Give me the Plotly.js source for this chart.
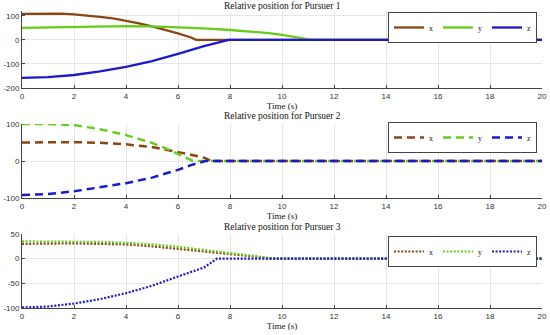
<!DOCTYPE html>
<html><head><meta charset="utf-8">
<script src="https://cdn.plot.ly/plotly-3.0.1.min.js"></script>
<style>html,body{margin:0;padding:0;background:#fff}#chart{width:550px;height:335px}</style>
</head><body><div id="chart"></div>
<script>
// ---- Pursuer 1 (solid) ----
const p1_tx = [0,0.5,1,1.5,2,2.5,3,3.5,4,4.5,5,5.5,6,6.5,6.7,20];
const p1_x  = [108,109,110,109,106,102,96,89,80,69,56,43,27,10,0,0];
const p1_ty = [0,1,2,3,4,5,6,7,8,9,9.5,10,10.5,11.15,20];
const p1_y  = [50,52,54,56,57,56,53,48,41,33,28,21,13,0,0];
const p1_tz = [0,1,2,3,4,5,6,7,7.95,20];
const p1_z  = [-158,-155,-146,-131,-112,-88,-58,-26,0,0];

// ---- Pursuer 2 (dashed) ----
const p2_tx = [0,1,2,3,4,5,5.5,6,6.5,7,7.3,20];
const p2_x  = [50,51,51,49,45,38,32,24,17,9,0,0];
const p2_ty = [0,1,2,3,4,5,5.5,6,6.57,20];
const p2_y  = [100,100,97,86,70,49,35,18,0,0];
const p2_tz = [0,1,2,3,4,5,6,6.5,7.05,20];
const p2_z  = [-92,-89,-82,-72,-60,-45,-24,-11,0,0];

// ---- Pursuer 3 (dotted) ----
const p3_tx = [0,1,2,3,4,5,6,7,8,9,9.6,20];
const p3_x  = [30,31,31,30,29,25,20,15,10,4,0,0];
const p3_ty = [0,1,2,3,4,5,6,7,8,9,9.7,20];
const p3_y  = [35,35,35,34,32,29,24,18,12,5,0,0];
const p3_tz = [0,1,2,3,4,5,6,7,7.5,20];
const p3_z  = [-99,-97,-91,-82,-70,-55,-36,-18,0,0];

const seriesNames = ['x','y','z'];
const titles = ['Relative position for Pursuer 1','Relative position for Pursuer 2','Relative position for Pursuer 3'];
const xTicks = [0,2,4,6,8,10,12,14,16,18,20];
const yTicks1 = [-200,-100,0,100];
const yTicks2 = [-100,0,100];
const yTicks3 = [-100,-50,0,50];

const colors = ['#8b4513','#66cc1a','#1a1acc'];
const W = 550, H = 335, L = 22, R = 8;
const panels = [
  {data:[[p1_tx,p1_x],[p1_ty,p1_y],[p1_tz,p1_z]], dash:'solid', width:2.3, yr:[-200,120], yt:yTicks1, top:11, bot:88, legTop:12, title:6},
  {data:[[p2_tx,p2_x],[p2_ty,p2_y],[p2_tz,p2_z]], dash:'8px,5px', width:2.5, yr:[-100,100], yt:yTicks2, top:124, bot:198, legTop:122, title:116},
  {data:[[p3_tx,p3_x],[p3_ty,p3_y],[p3_tz,p3_z]], dash:'2px,1.6px', width:2.2, yr:[-100,50], yt:yTicks3, top:234, bot:308, legTop:236, title:227}
];

const traces = [];
const layout = {
  width: W, height: H, margin:{l:L, r:R, t:0, b:0},
  paper_bgcolor:'#fff', plot_bgcolor:'#fff', showlegend:true, annotations:[]
};
const tickFont = {family:'Liberation Sans, Arial, sans-serif', size:8, color:'#333'};
const serif = 'Liberation Serif, Times New Roman, serif';

panels.forEach((p, i) => {
  const n = i + 1;
  const xa = n === 1 ? 'x' : 'x' + n;
  const ya = n === 1 ? 'y' : 'y' + n;
  const lg = n === 1 ? 'legend' : 'legend' + n;
  p.data.forEach((d, k) => {
    traces.push({
      x: d[0], y: d[1], type:'scatter', mode:'lines', name: seriesNames[k],
      xaxis: xa, yaxis: ya, legend: lg,
      line:{color: colors[k], width: p.width, dash: p.dash}
    });
  });
  const xKey = n === 1 ? 'xaxis' : 'xaxis' + n;
  const yKey = n === 1 ? 'yaxis' : 'yaxis' + n;
  layout[xKey] = {
    domain:[0,1], anchor: ya, range:[0,20], tickvals: xTicks, ticktext: xTicks.map(String),
    ticks:'inside', ticklen:3, tickcolor:'#444', showgrid:true, gridcolor:'#e6e6e6',
    showline:true, linecolor:'#444', linewidth:1, zeroline:false, tickfont: tickFont,
    title:{text:'Time (s)', font:{family:serif, size:9, color:'#111'}, standoff:0}
  };
  layout[yKey] = {
    domain:[1 - p.bot/H, 1 - p.top/H], anchor: xa, range: p.yr, tickvals: p.yt,
    ticktext: p.yt.map(String), ticks:'inside', ticklen:3, tickcolor:'#444',
    showgrid:true, gridcolor:'#e6e6e6', showline:true, linecolor:'#444', linewidth:1,
    zeroline:false, tickfont: tickFont
  };
  layout[lg] = {
    x: (537 - L)/(W - L - R), xanchor:'right', y: 1 - p.legTop/H, yanchor:'top',
    orientation:'h', bordercolor:'#444', borderwidth:1, bgcolor:'#fff',
    font:{family:serif, size:8, color:'#111'}, itemwidth:30, tracegroupgap:0
  };
  layout.annotations.push({
    text: titles[i], xref:'paper', yref:'paper', x:0.5, y: 1 - p.title/H,
    xanchor:'center', yanchor:'middle', showarrow:false,
    font:{family:serif, size:9.5, color:'#111'}
  });
});

Plotly.newPlot('chart', traces, layout, {displayModeBar:false, staticPlot:true});
</script></body></html>
